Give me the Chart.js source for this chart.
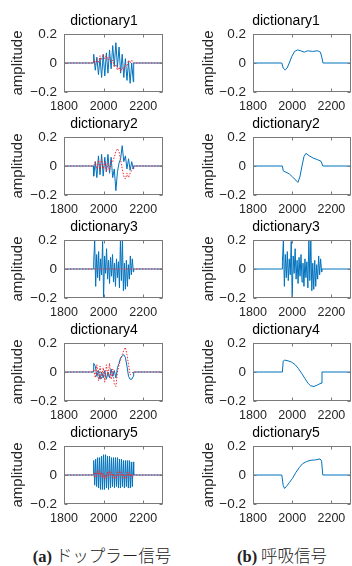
<!DOCTYPE html>
<html>
<head>
<meta charset="utf-8">
<script src="https://cdn.jsdelivr.net/npm/chart.js@4.4.0/dist/chart.umd.min.js"></script>
<style>
  body { margin: 0; background: #fff; }
  #fig { position: relative; width: 352px; height: 566px; overflow: hidden; background: #fff; }
  #fig canvas { position: absolute; }
  .caption {
    position: absolute;
    top: 545px;
    line-height: 20px;
    white-space: nowrap;
    transform: translateX(-50%);
    color: #222;
    font-family: "Noto Sans CJK JP", sans-serif;
    font-weight: 300;
    font-size: 16.5px;
  }
  .caption b { font-family: "Liberation Serif", "DejaVu Serif", serif; font-weight: bold; }
</style>
</head>
<body>
<div id="fig">
  <div class="caption" style="left:102px"><b>(a)</b> ドップラー信号</div>
  <div class="caption" style="left:282px"><b>(b)</b> 呼吸信号</div>
</div>
<script>
// Axis ticks shared by every panel
const xTickValues = [1800, 2000, 2200];
const xTickLabels = ['1800', '2000', '2200'];
const yTickValues = [-0.2, 0, 0.2];
const yTickLabels = ['\u22120.2', '0', '0.2'];

// Sample positions
const flatX = [1800, 2300];
const flatY = [0, 0];
const stripeX = [1800, 1948, 1950, 1958, 1966, 1974, 1982, 1990, 1998, 2006, 2014, 2022, 2030, 2038, 2046,
    2054, 2062, 2070, 2078, 2086, 2094, 2102, 2110, 2118, 2126, 2134, 2142, 2150, 2152, 2300];
const denseX = [1800, 1948, 1950, 1955, 1960, 1965, 1970, 1975, 1980, 1985, 1990, 1995, 2000, 2005, 2010,
    2015, 2020, 2025, 2030, 2035, 2040, 2045, 2050, 2055, 2060, 2065, 2070, 2075, 2080, 2085, 2090,
    2095, 2100, 2105, 2110, 2115, 2120, 2125, 2130, 2135, 2140, 2145, 2150, 2152, 2300];

// (a) Doppler dictionaries: blue atoms and red dotted reference
const doppler1 = [0, 0, 0.06, -0.05, 0.04, -0.08, 0.035, -0.1, 0.06, -0.09, 0.07, -0.07, 0.09, -0.04, 0.12,
    -0.02, 0.14, -0.03, 0.11, -0.07, 0.06, -0.1, 0.03, -0.12, 0.01, -0.14, 0.0, -0.13, 0, 0];
const dopplerRed1 = [0, 0, 0.02, -0.01, 0.03, 0.0, 0.05, 0.02, 0.06, 0.03, 0.05, 0.02, 0.04, 0.0, 0.02,
    -0.03, -0.01, -0.05, -0.03, -0.06, -0.03, -0.05, -0.01, -0.02, 0.02, 0.0, 0.02, 0.0, 0, 0];
const doppler2 = [0, 0, -0.07, 0.03, -0.08, 0.07, -0.06, 0.08, -0.07, 0.06, -0.04, 0.08, -0.05, 0.06, -0.08,
    -0.02, -0.17, -0.04, 0.02, 0.05, 0.14, 0.03, 0.07, -0.02, 0.05, -0.03, 0.03, -0.02, 0, 0];
const dopplerRed2 = [0, 0, 0.0, 0.03, -0.02, 0.04, -0.03, 0.05, -0.02, 0.03, -0.04, 0.02, -0.03, 0.04, 0.03,
    0.06, 0.1, 0.12, 0.1, 0.04, -0.02, -0.07, -0.09, -0.05, -0.08, -0.05, -0.03, 0.0, 0, 0];
const doppler3 = [0, 0, 0.05, 0.2, -0.12, 0.1, -0.06, 0.12, -0.08, 0.07, -0.04, 0.19, -0.2, 0.09, -0.03,
    0.14, -0.07, 0.06, -0.1, 0.08, -0.05, 0.1, -0.09, 0.04, -0.12, 0.07, -0.06, 0.05, -0.13, 0.2, -0.08,
    0.2, -0.15, 0.04, -0.14, 0.06, -0.12, 0.03, -0.07, 0.09, -0.04, 0.07, -0.02, 0, 0];
const doppler4 = [0, 0, 0.06, 0.04, -0.03, 0.01, -0.05, 0.0, -0.04, 0.01, -0.05, 0.0, -0.04, 0.02, -0.03,
    0.01, -0.04, 0.03, 0.06, 0.1, 0.11, 0.12, 0.1, 0.04, -0.03, -0.05, -0.05, -0.03, 0, 0];
const dopplerRed4 = [0, 0, 0.02, -0.04, 0.05, -0.06, 0.04, -0.05, 0.03, -0.07, 0.05, -0.03, 0.06, -0.05, 0.02,
    -0.08, -0.1, 0.0, 0.05, 0.08, 0.12, 0.15, 0.17, 0.12, 0.05, -0.02, -0.01, 0.0, 0, 0];
const doppler5 = [0, 0, 0.1, -0.07, 0.11, -0.08, 0.12, -0.09, 0.12, -0.1, 0.13, -0.1, 0.14, -0.1, 0.14,
    -0.09, 0.13, -0.1, 0.13, -0.09, 0.12, -0.08, 0.12, -0.09, 0.12, -0.08, 0.12, -0.09, 0.11, -0.09, 0.11,
    -0.08, 0.1, -0.09, 0.1, -0.08, 0.1, -0.09, 0.1, -0.09, 0.09, -0.08, 0.09, 0, 0];
const dopplerRed5 = [0, 0, 0.01, -0.02, 0.02, -0.01, 0.03, 0.0, 0.03, -0.01, 0.02, -0.02, 0.01, -0.03, 0.0,
    -0.02, 0.02, -0.01, 0.03, 0.0, 0.02, -0.02, 0.01, -0.03, 0.0, -0.02, 0.02, -0.01, 0.03, 0.0, 0.02,
    -0.02, 0.01, -0.03, 0.0, -0.02, 0.02, -0.01, 0.02, -0.01, 0.01, -0.02, 0.0, 0, 0];

// (b) Respiration dictionaries
const breath1X = [1800, 1947, 1954, 1964, 1974, 1985, 1998, 2012, 2027, 2044, 2062, 2079, 2104, 2130, 2144, 2152, 2157, 2300];
const breath1Y = [0, 0, -0.035, -0.048, -0.035, 0, 0.045, 0.08, 0.09, 0.084, 0.075, 0.084, 0.08, 0.084, 0.075, 0.035, 0, 0];
const breath2X = [1800, 1950, 1954, 1968, 1985, 2002, 2019, 2029, 2039, 2050, 2060, 2070, 2087, 2108, 2130, 2147, 2156, 2300];
const breath2Y = [0, 0, -0.033, -0.043, -0.054, -0.076, -0.098, -0.113, -0.076, 0, 0.065, 0.087, 0.07, 0.054, 0.043, 0.033, 0, 0];
const breath4X = [1800, 1950, 1954, 1962, 1979, 1997, 2014, 2031, 2048, 2065, 2082, 2094, 2111, 2128, 2147, 2152, 2300];
const breath4Y = [0, 0, 0.075, 0.082, 0.077, 0.068, 0.052, 0.025, -0.009, -0.045, -0.08, -0.095, -0.1, -0.09, -0.077, 0, 0];
const breath5X = [1800, 1947, 1954, 1961, 1971, 1985, 2002, 2019, 2036, 2053, 2074, 2096, 2118, 2142, 2150, 2156, 2300];
const breath5Y = [0, 0, -0.071, -0.093, -0.078, -0.053, -0.022, 0.018, 0.051, 0.078, 0.093, 0.102, 0.104, 0.111, 0.096, 0, 0];

const FONT = "'Liberation Sans', Helvetica, Arial, sans-serif";
const BLUE = '#0072BD';
const RED = 'rgb(236, 40, 50)';

// Layout of the figure grid. An empty right-hand axis (spacer) pushes the
// title centre to where the original figure had it.
const rowTops = [34, 137, 240, 343, 446];
const columns = [
    {left: 0, width: 208, axisWidth: 64, spacer: 45, labelPad: 9},
    {left: 176, width: 220, axisWidth: 77, spacer: 45, labelPad: 24}
];

const panels = [
    {col: 0, row: 0, title: 'dictionary1', blue: [stripeX, doppler1], red: [stripeX, dopplerRed1]},
    {col: 0, row: 1, title: 'dictionary2', blue: [stripeX, doppler2], red: [stripeX, dopplerRed2]},
    {col: 0, row: 2, title: 'dictionary3', blue: [denseX, doppler3], red: [flatX, flatY]},
    {col: 0, row: 3, title: 'dictionary4', blue: [stripeX, doppler4], red: [stripeX, dopplerRed4]},
    {col: 0, row: 4, title: 'dictionary5', blue: [denseX, doppler5], red: [denseX, dopplerRed5]},
    {col: 1, row: 0, title: 'dictionary1', blue: [breath1X, breath1Y]},
    {col: 1, row: 1, title: 'dictionary2', blue: [breath2X, breath2Y]},
    {col: 1, row: 2, title: 'dictionary3', blue: [denseX, doppler3]},
    {col: 1, row: 3, title: 'dictionary4', blue: [breath4X, breath4Y]},
    {col: 1, row: 4, title: 'dictionary5', blue: [breath5X, breath5Y]}
];

const toPoints = function(xs, ys) {
    return xs.map(function(x, i) {
        return {x: x, y: ys[i]};
    });
};

// MATLAB-like box with inward tick marks
const boxFrame = {
    id: 'boxFrame',
    afterDatasetsDraw: function(chart) {
        const ctx = chart.ctx;
        const a = chart.chartArea;
        const l = Math.round(a.left) + 0.5;
        const r = Math.round(a.right) - 0.5;
        const t = Math.round(a.top) + 0.5;
        const b = Math.round(a.bottom) - 0.5;
        ctx.save();
        ctx.strokeStyle = '#7a7a7a';
        ctx.lineWidth = 1;
        ctx.strokeRect(l, t, r - l, b - t);
        ctx.beginPath();
        xTickValues.forEach(function(v) {
            const px = Math.round(chart.scales.x.getPixelForValue(v)) + 0.5;
            ctx.moveTo(px, b); ctx.lineTo(px, b - 3);
            ctx.moveTo(px, t); ctx.lineTo(px, t + 3);
        });
        yTickValues.forEach(function(v) {
            const py = Math.round(chart.scales.y.getPixelForValue(v)) + 0.5;
            ctx.moveTo(l, py); ctx.lineTo(l + 3, py);
            ctx.moveTo(r, py); ctx.lineTo(r - 3, py);
        });
        ctx.stroke();
        ctx.restore();
    }
};

const makePanel = function(p) {
    const col = columns[p.col];
    const canvas = document.createElement('canvas');
    canvas.width = col.width;
    canvas.height = 103;
    canvas.style.left = col.left + 'px';
    canvas.style.top = (rowTops[p.row] - 22) + 'px';
    document.getElementById('fig').appendChild(canvas);

    const datasets = [{
        data: toPoints(p.blue[0], p.blue[1]),
        yAxisID: 'y',
        borderColor: BLUE,
        borderWidth: 1,
        borderJoinStyle: 'round',
        pointRadius: 0,
        order: 2
    }];
    if (p.red) {
        datasets.push({
            data: toPoints(p.red[0], p.red[1]),
            yAxisID: 'y',
            borderColor: RED,
            borderWidth: 1,
            borderDash: [1.5, 1.5],
            borderJoinStyle: 'round',
            pointRadius: 0,
            order: 1
        });
    }

    new Chart(canvas, {
        type: 'line',
        data: {datasets: datasets},
        plugins: [boxFrame],
        options: {
            responsive: false,
            animation: false,
            layout: {padding: 0},
            plugins: {
                legend: {display: false},
                tooltip: {enabled: false},
                title: {
                    display: true,
                    align: 'center',
                    text: p.title,
                    color: '#000',
                    font: {family: FONT, size: 14, weight: 'normal'},
                    padding: {top: 0.6, bottom: 4.6}
                }
            },
            scales: {
                x: {
                    type: 'linear',
                    min: 1800,
                    max: 2300,
                    grid: {display: false, drawTicks: false},
                    border: {display: false},
                    ticks: {
                        autoSkip: false,
                        maxRotation: 0,
                        padding: 7,
                        color: '#262626',
                        font: {family: FONT, size: 12.5},
                        callback: function(v, i) { return xTickLabels[i]; }
                    },
                    afterBuildTicks: function(s) {
                        s.ticks = xTickValues.map(function(v) { return {value: v}; });
                    },
                    afterFit: function(s) { s.height = 23; }
                },
                y: {
                    type: 'linear',
                    position: 'left',
                    min: -0.2,
                    max: 0.2,
                    grid: {display: false, drawTicks: false},
                    border: {display: false},
                    ticks: {
                        padding: 7,
                        color: '#262626',
                        font: {family: FONT, size: 13.5},
                        callback: function(v, i) { return yTickLabels[i]; }
                    },
                    title: {
                        display: true,
                        text: 'amplitude',
                        color: '#262626',
                        font: {family: FONT, size: 15},
                        padding: {top: col.labelPad, bottom: 0}
                    },
                    afterBuildTicks: function(s) {
                        s.ticks = yTickValues.map(function(v) { return {value: v}; });
                    },
                    afterFit: function(s) { s.width = col.axisWidth; }
                },
                spacer: {
                    type: 'linear',
                    axis: 'y',
                    position: 'right',
                    min: -0.2,
                    max: 0.2,
                    grid: {display: false, drawTicks: false},
                    border: {display: false},
                    ticks: {display: false},
                    afterFit: function(s) { s.width = col.spacer; }
                }
            }
        }
    });
};

panels.forEach(makePanel);
</script>
</body>
</html>
